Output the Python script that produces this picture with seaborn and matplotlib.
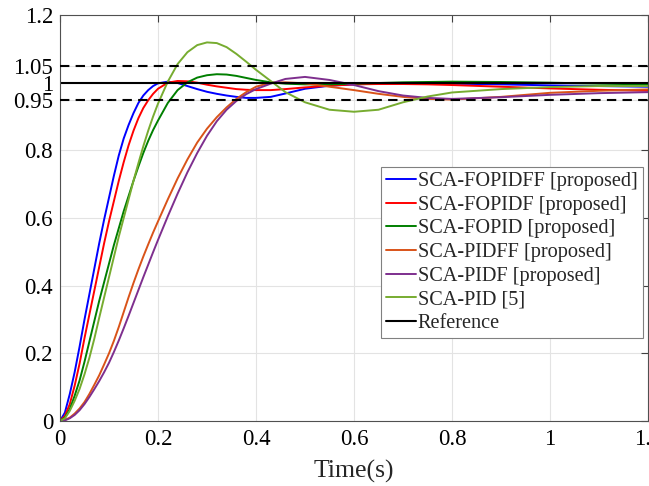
import numpy as np
import pandas as pd
import matplotlib
matplotlib.use("Agg")
import matplotlib.pyplot as plt
import seaborn as sns

# ---- data ----
time_s = [0, 0.01, 0.02, 0.03, 0.04, 0.05, 0.06, 0.07, 0.08, 0.09, 0.10,
          0.11, 0.12, 0.13, 0.14, 0.15, 0.16, 0.17, 0.18, 0.19, 0.20,
          0.22, 0.24, 0.26, 0.28, 0.30, 0.32, 0.34, 0.36, 0.38, 0.40,
          0.43, 0.46, 0.50, 0.55, 0.60, 0.65, 0.70, 0.75, 0.80, 0.90, 1.00, 1.10, 1.20]

fopidff = [0, 0.025, 0.08, 0.145, 0.22, 0.30, 0.375, 0.45, 0.525, 0.595, 0.66,
           0.725, 0.785, 0.835, 0.875, 0.91, 0.94, 0.962, 0.978, 0.99, 0.998,
           1.003, 0.999, 0.99, 0.981, 0.973, 0.967, 0.962, 0.958, 0.955, 0.955,
           0.958, 0.968, 0.982, 0.991, 0.995, 0.997, 0.998, 0.998, 0.997, 0.995, 0.992, 0.99, 0.988]

fopidf = [0, 0.015, 0.05, 0.105, 0.17, 0.245, 0.315, 0.385, 0.455, 0.525, 0.59,
          0.65, 0.71, 0.765, 0.815, 0.858, 0.895, 0.925, 0.948, 0.967, 0.982,
          1.0, 1.005, 1.004, 1.0, 0.994, 0.989, 0.985, 0.981, 0.979, 0.978,
          0.978, 0.981, 0.986, 0.991, 0.995, 0.996, 0.996, 0.995, 0.993, 0.988, 0.983, 0.979, 0.976]

fopid = [0, 0.01, 0.035, 0.075, 0.12, 0.175, 0.235, 0.295, 0.355, 0.41, 0.465,
         0.52, 0.57, 0.62, 0.665, 0.71, 0.752, 0.792, 0.828, 0.86, 0.888,
         0.94, 0.978, 1.001, 1.015, 1.022, 1.025, 1.024, 1.02, 1.014, 1.008,
         1.001, 0.997, 0.995, 0.995, 0.997, 0.999, 1.001, 1.002, 1.003, 1.002, 1.0, 0.997, 0.995]

pidff = [0, 0.003, 0.01, 0.022, 0.037, 0.056, 0.08, 0.107, 0.135, 0.167, 0.2,
         0.237, 0.278, 0.322, 0.366, 0.408, 0.448, 0.486, 0.522, 0.557, 0.59,
         0.655, 0.717, 0.773, 0.823, 0.864, 0.898, 0.927, 0.952, 0.972, 0.988,
         1.0, 1.001, 0.998, 0.988, 0.978, 0.967, 0.958, 0.952, 0.95, 0.958, 0.97, 0.976, 0.98]

pidf = [0, 0.002, 0.008, 0.018, 0.032, 0.05, 0.071, 0.094, 0.118, 0.144, 0.172,
        0.204, 0.238, 0.274, 0.311, 0.349, 0.387, 0.425, 0.462, 0.499, 0.535,
        0.605, 0.672, 0.735, 0.792, 0.843, 0.886, 0.92, 0.946, 0.966, 0.981,
        0.997, 1.011, 1.017, 1.008, 0.993, 0.975, 0.962, 0.955, 0.952, 0.957, 0.964, 0.969, 0.972]

pid = [0, 0.008, 0.03, 0.06, 0.095, 0.138, 0.187, 0.243, 0.305, 0.365, 0.425,
       0.485, 0.545, 0.60, 0.655, 0.71, 0.762, 0.812, 0.858, 0.90, 0.938,
       1.003, 1.055, 1.09, 1.111, 1.119, 1.117, 1.105, 1.085, 1.062, 1.038,
       1.005, 0.972, 0.942, 0.92, 0.914, 0.92, 0.942, 0.959, 0.971, 0.981, 0.987, 0.99, 0.99]

series_names = ["SCA-FOPIDFF [proposed]", "SCA-FOPIDF [proposed]", "SCA-FOPID [proposed]",
                "SCA-PIDFF [proposed]", "SCA-PIDF [proposed]", "SCA-PID [5]"]
series_values = [fopidff, fopidf, fopid, pidff, pidf, pid]
series_colors = ["#0000FF", "#FF0000", "#007F00", "#D95319", "#7E2F8E", "#77AC30"]

reference_value = 1.0
band_values = [0.95, 1.05]
y_ticks = [0, 0.2, 0.4, 0.6, 0.8, 0.95, 1, 1.05, 1.2]
y_tick_labels = ["0", "0.2", "0.4", "0.6", "0.8", "0.95", "1", "1.05", "1.2"]
x_ticks = [0, 0.2, 0.4, 0.6, 0.8, 1.0, 1.2]
x_tick_labels = ["0", "0.2", "0.4", "0.6", "0.8", "1", "1.2"]

# ---- build long-form table ----
frames = []
for name, vals in zip(series_names, series_values):
    frames.append(pd.DataFrame({"t": time_s, "y": vals, "series": name}))
df = pd.concat(frames, ignore_index=True)

sns.set_theme(style="white")
plt.rcParams["font.family"] = ["Liberation Serif", "DejaVu Serif"]

fig = plt.figure(figsize=(6.49, 4.86), dpi=100)
ax = fig.add_axes([60 / 649, 1 - 421 / 486, 588 / 649, 406 / 486])

sns.lineplot(data=df, x="t", y="y", hue="series", hue_order=series_names,
             palette=dict(zip(series_names, series_colors)), linewidth=1.4,
             ax=ax, sort=False, estimator=None)

ref_df = pd.DataFrame({"t": [0, 1.2], "y": [reference_value, reference_value]})
sns.lineplot(data=ref_df, x="t", y="y", color="black", linewidth=1.5, ax=ax, label="Reference")

for b in band_values:
    ax.axhline(b, color="black", linewidth=1.5, linestyle=(0, (4.5, 3)), zorder=3)

ax.set_xlim(0, 1.2)
ax.set_ylim(0, 1.2)
ax.set_xticks(x_ticks)
ax.set_xticklabels(x_tick_labels)
ax.set_yticks(y_ticks)
ax.set_yticklabels(y_tick_labels)
ax.tick_params(axis="both", direction="in", length=5, width=0.8, colors="#404040",
               labelcolor="black", labelsize=16.5, top=True, right=True)
ax.tick_params(axis="x", pad=6)
ax.tick_params(axis="y", pad=5)
ax.grid(True, color="#e3e3e3", linewidth=0.8)
ax.set_axisbelow(True)
for sp in ax.spines.values():
    sp.set_color("#505050")
    sp.set_linewidth(0.8)
ax.set_xlabel("Time(s)", fontsize=18.5, labelpad=7)
ax.set_ylabel("")

handles, labels = ax.get_legend_handles_labels()
leg = ax.legend(handles, labels, loc="upper right", bbox_to_anchor=(0.991, 0.626),
                borderaxespad=0, fontsize=14.6, frameon=True, fancybox=False,
                edgecolor="#808080", framealpha=1, handlelength=1.45,
                handletextpad=0.1, labelspacing=0.22, borderpad=0.25)
leg.get_frame().set_linewidth(0.8)

fig.savefig("out.png", dpi=100)
